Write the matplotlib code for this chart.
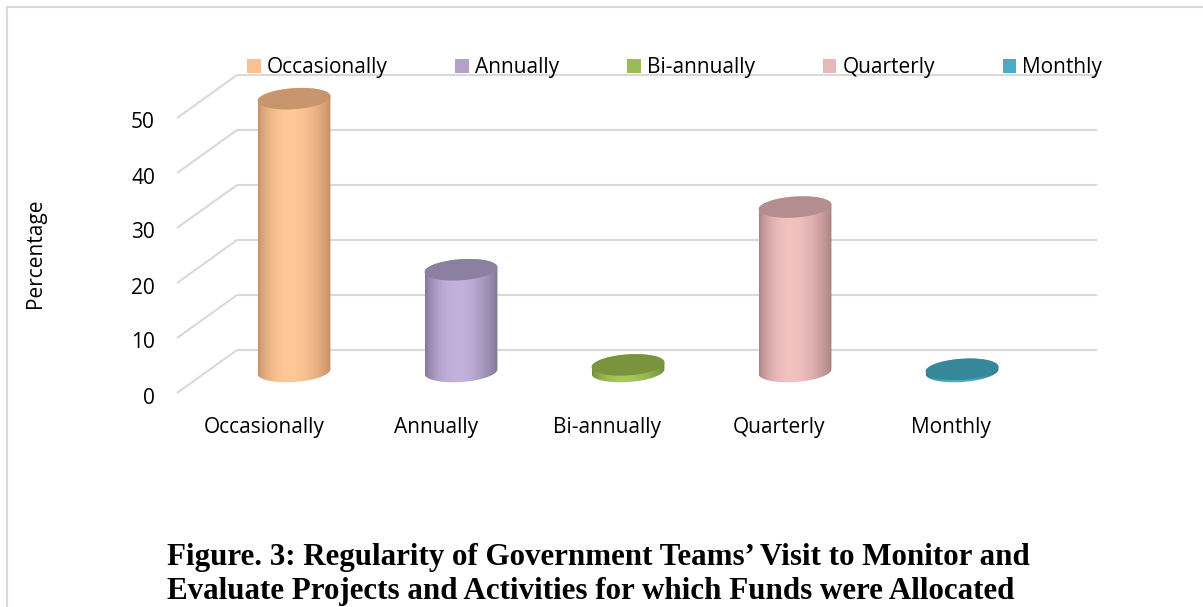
import numpy as np
import matplotlib
matplotlib.use("Agg")
import matplotlib.pyplot as plt
from matplotlib.patches import Polygon, Patch
from matplotlib.lines import Line2D

# data
categories = ['Occasionally', 'Annually', 'Bi-annually', 'Quarterly', 'Monthly']
percent = [49.6, 18.5, 1.2, 29.9, 0.4]
y_ticks = [0, 10, 20, 30, 40, 50]

# colours
legend_colors = ['#FAC090', '#B3A2C7', '#9BBB59', '#E6B9B8', '#4BACC6']
body_light = [(255, 200, 150), (195, 178, 220), (165, 200, 95), (242, 194, 193), (80, 175, 200)]
body_dark = [(196, 142, 102), (128, 114, 150), (108, 138, 52), (168, 128, 128), (40, 110, 130)]
top_colors = ['#C8966E', '#8C80A0', '#7A943E', '#B48E8E', '#37879B']
grid_color = '#D9D9D9'

plt.rcParams['font.family'] = ['Open Sans', 'DejaVu Sans']
FS = 15

W, H = 1203, 607
fig = plt.figure(figsize=(W / 100, H / 100), dpi=100)

# layout in pixels: category 0 at x=294, 167 px per category,
# value 0 (middle of the depth) at y=371.5 from the top, 5.5 px per unit
X0, STEP, Y0, UNIT = 294, 167, 371.5, 5.5
xlim = (-1.5, 5.0)
ylim = (-20, 65)
left = X0 + xlim[0] * STEP
right = X0 + xlim[1] * STEP
top = Y0 - ylim[1] * UNIT
bottom = Y0 - ylim[0] * UNIT
ax = fig.add_axes([left / W, 1 - bottom / H, (right - left) / W, (bottom - top) / H])
ax.set_xlim(*xlim)
ax.set_ylim(*ylim)
ax.axis('off')

# depth offsets (half depth) in data units
DX = 30 / STEP
DY = 21.5 / UNIT
wall_left = (207 - X0) / STEP
wall_right = (1097 - X0) / STEP - DX

# walls / gridlines
for v in y_ticks:
    ax.plot([wall_left - DX, wall_left + DX], [v - DY, v + DY], color=grid_color, lw=1.5,
            solid_capstyle='butt', zorder=1)
    ax.plot([wall_left + DX, wall_right + DX], [v + DY, v + DY], color=grid_color, lw=1.5,
            solid_capstyle='butt', zorder=1)
    ax.text(wall_left - DX - 22 / STEP, v - DY - 5 / UNIT, str(v), ha='right', va='center',
            fontsize=FS, color='#000000')

# cylinders
A, B, TILT = 36.5, 10.5, np.deg2rad(4)


def ellipse(cx, cy, t):
    px = A * np.cos(t) * np.cos(TILT) - B * np.sin(t) * np.sin(TILT)
    py = A * np.cos(t) * np.sin(TILT) + B * np.sin(t) * np.cos(TILT)
    return cx + px / STEP, cy + py / UNIT


tt = np.linspace(0, 1, 300)
shade = np.sin(np.pi * tt ** 0.85) ** 0.8
for i, v in enumerate(percent):
    bx, by = ellipse(i, 0, np.linspace(np.pi, 2 * np.pi, 100))
    tx, ty = ellipse(i, v, np.linspace(0, np.pi, 100))
    outline = Polygon(np.column_stack([np.r_[bx, tx], np.r_[by, ty]]), closed=True,
                      transform=ax.transData)
    lo = np.array(body_dark[i]) / 255
    hi = np.array(body_light[i]) / 255
    img = (lo + (hi - lo) * shade[:, None])[None, :, :]
    im = ax.imshow(img, extent=[i - A / STEP, i + A / STEP, -B / UNIT - 1, v + B / UNIT + 1],
                   aspect='auto', interpolation='bilinear', zorder=3)
    im.set_clip_path(outline)
    ex, ey = ellipse(i, v, np.linspace(0, 2 * np.pi, 120))
    ax.add_patch(Polygon(np.column_stack([ex, ey]), closed=True, facecolor=top_colors[i],
                         edgecolor='none', zorder=4))
    # category label on the front plane
    ax.text(i * 1.028 - DX, -(428 - Y0) / UNIT, categories[i], ha='center', va='center',
            fontsize=FS, color='#000000')

ax.set_xlim(*xlim)
ax.set_ylim(*ylim)

# legend
handles = [Patch(facecolor=c, edgecolor='none') for c in legend_colors]
fig.legend(handles, categories, ncol=5, loc='center left', bbox_to_anchor=(247 / W, 1 - 68 / H),
           frameon=False, fontsize=FS, handlelength=0.65, handleheight=0.65, handletextpad=0.3,
           columnspacing=3.25, borderpad=0, borderaxespad=0)

fig.text(36 / W, 1 - 253 / H, 'Percentage', rotation=90, ha='center', va='center', fontsize=FS)

# outer chart border (top and left are visible)
fig.add_artist(Line2D([7 / W, 1.01], [1 - 7 / H, 1 - 7 / H], color=grid_color, lw=1.5,
                      transform=fig.transFigure))
fig.add_artist(Line2D([7 / W, 7 / W], [1 - 7 / H, -0.01], color=grid_color, lw=1.5,
                      transform=fig.transFigure))

# caption
fig.text(167 / W, 1 - 558 / H, 'Figure. 3: Regularity of Government Teams\u2019 Visit to Monitor and',
         ha='left', va='center', fontsize=22.3, fontweight='bold', family='Liberation Serif')
fig.text(167 / W, 1 - 591 / H, 'Evaluate Projects and Activities for which Funds were Allocated',
         ha='left', va='center', fontsize=22.3, fontweight='bold', family='Liberation Serif')

fig.savefig('out.png', dpi=100, facecolor='white')
